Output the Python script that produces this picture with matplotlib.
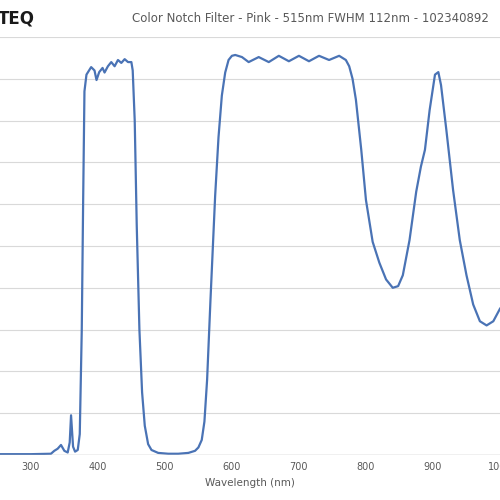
import matplotlib.pyplot as plt

wavelength = [250, 300, 330, 335, 340, 345, 350, 355, 358, 360, 363, 366, 370, 373, 376, 378, 380,
              383, 390, 395, 398, 402, 407, 410, 415, 420, 425, 430, 435, 440, 445, 450, 452, 455,
              458, 462, 466, 470, 475, 480, 490, 505, 520, 535, 545, 550, 555, 559, 563, 568, 575,
              580, 585, 590, 595, 600, 605, 615, 625, 640,
              655, 670, 685, 700, 715, 730, 745, 760, 770, 775, 780, 785, 793, 800, 810, 820, 830,
              840, 848, 855, 865, 875, 882, 888, 895, 903, 908, 912, 920, 930, 940, 950, 960, 970,
              980, 990, 1000]
transmission = [0.2, 0.2, 0.3, 1.0, 1.5, 2.4, 1.0, 0.6, 3.0, 9.5, 2.0, 0.8, 1.2, 5.0, 30, 60, 87,
                91, 92.8, 92, 89.7, 91.6, 92.6, 91.5, 93, 94, 93, 94.5, 93.8, 94.7, 94, 94, 92, 80,
                55, 30, 15, 7, 2.6, 1.2, 0.5, 0.3, 0.3, 0.5, 1.0, 1.8, 3.6, 8, 18, 37, 62,
                76, 86, 91.5, 94.5, 95.5, 95.7, 95.2, 94, 95.2,
                94, 95.5, 94.2, 95.5, 94.2, 95.5, 94.5, 95.5, 94.5, 93, 90, 85, 73, 61, 51, 46, 42,
                40, 40.4, 43, 51.4, 63, 69, 73, 82.5, 91, 91.6, 88.5, 77.7, 63.4, 51.4, 43, 36, 32,
                31, 32, 35]
xticks = [300, 400, 500, 600, 700, 800, 900, 1000]

fig = plt.figure(figsize=(5, 5), dpi=100)
ax = fig.add_axes([0, 0.09, 1, 0.836])
ax.plot(wavelength, transmission, color='#4a73b5', lw=1.6)
ax.set_xlim(254, 993)
ax.set_ylim(0, 100)
ax.set_yticks(range(0, 101, 10))
ax.set_yticklabels([])
ax.set_xticks(xticks)
ax.set_xticklabels([str(t) for t in xticks], fontsize=7, color='#595959')
ax.tick_params(length=0, pad=5)
ax.grid(axis='y', color='#d9d9d9', lw=0.8)
ax.set_axisbelow(True)
for s in ax.spines.values():
    s.set_visible(False)
ax.axhline(0, color='#bfbfbf', lw=1)
ax.set_xlabel('Wavelength (nm)', fontsize=7.5, color='#595959', labelpad=4)

fig.text(0.62, 0.962, 'Color Notch Filter - Pink - 515nm FWHM 112nm - 102340892',
         ha='center', va='center', fontsize=8.5, color='#595959')
fig.text(-0.005, 0.962, 'TEQ', ha='left', va='center', fontsize=12, fontweight='bold',
         color='#1a1a1a')
fig.savefig('out.png')
